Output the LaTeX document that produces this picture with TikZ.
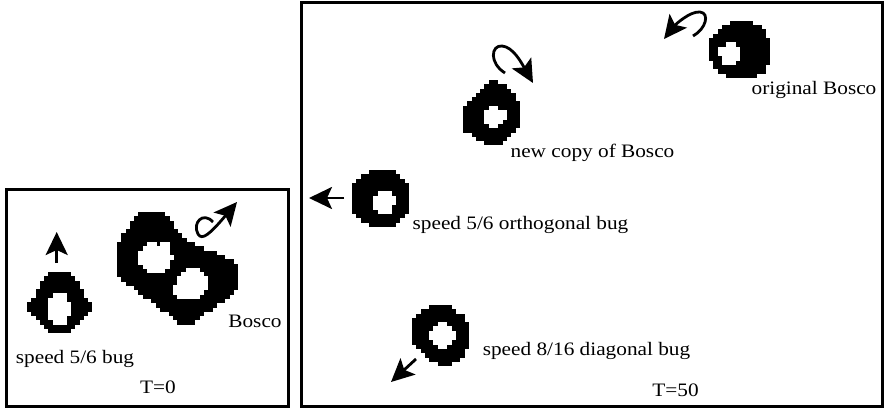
\documentclass[tikz,border=0pt]{standalone}
\usepackage{fontspec}
\setmainfont{Liberation Serif}[FakeStretch=1.12]
\usepackage{tikz}
\usetikzlibrary{arrows.meta}
\tikzset{
  panel/.style={line width=3pt, black},
  cell/.style={fill=black, draw=black, line width=0.2pt},
  hole/.style={fill=white, draw=white, line width=0.2pt},
  move/.style={line width=2.8pt, -{Stealth[length=23pt,width=22pt,inset=5pt]}},
  lbl/.style={font=\fontsize{19}{22}\selectfont, inner sep=0pt},
}
\newcommand{\cellsz}{4.3}
% #1 top-left corner, #2 black runs row/from/to, #3 empty runs row/from/to
\newcommand{\blob}[3]{%
  \begin{scope}[shift={(#1)}]
    \foreach \r/\a/\b in {#2}
      \fill[cell] (\a*\cellsz,\r*\cellsz) rectangle ({(\b+1)*\cellsz},{(\r+1)*\cellsz});
    \foreach \r/\a/\b in {#3}
      \fill[hole] (\a*\cellsz,\r*\cellsz) rectangle ({(\b+1)*\cellsz},{(\r+1)*\cellsz});
  \end{scope}}

\begin{document}
\begin{tikzpicture}[x=1pt,y=-1pt]
  \useasboundingbox (0,0) rectangle (885,412);
  % panels
  \draw[panel] (6,189.5) rectangle (288.5,406.5);
  \draw[panel] (301.5,3) rectangle (882,406.5);

  % T=0: speed 5/6 bug
  \blob{27,272}{0/5/9,1/4/10,2/3/11,3/3/11,4/2/12,5/2/12,6/1/13,7/0/14,8/0/14,9/1/13,10/2/12,11/3/11,12/4/10,13/5/9}
    {5/6/8,6/5/8,7/5/9,8/5/9,9/5/9,10/5/8,11/6/8}
  \draw[move] (56.7,263) -- (56.7,232);
  % T=0: Bosco
  \blob{117,212}{0/5/10,1/4/11,2/3/12,3/3/12,4/2/13,5/1/14,6/1/15,7/0/17,8/0/19,9/0/22,10/0/24,11/0/26,12/0/27,13/0/27,14/0/27,15/1/27,16/2/27,17/4/27,18/5/26,19/6/25,20/8/24,21/9/22,22/10/21,23/12/19,24/13/18,25/14/17}
    {7/7/8,7/10/11,8/6/11,9/5/11,10/5/12,11/5/11,12/6/11,13/7/10,13/16/18,14/15/19,15/14/20,16/14/20,17/13/20,18/13/19,19/14/18}
  \draw[move] (213,222) .. controls (203,211) and (192,223) .. (198,234)
    .. controls (202,241) and (210,234) .. (237,202);
  \node[lbl] (lblBug) at (75,358.5) {speed 5/6 bug};
  \node[lbl] (lblBosco) at (255,321.5) {Bosco};
  \node[lbl] (lblT0) at (158,387.5) {T=0};

  % T=50: original Bosco
  \blob{709,21}{0/5/9,1/3/11,2/2/12,3/1/12,4/0/13,5/0/13,6/0/13,7/0/13,8/0/13,9/1/13,10/1/12,11/2/12,12/4/10}
    {5/4/5,6/2/6,7/2/6,8/3/6,9/3/5}
  \draw[move] (693,36) .. controls (706,29) and (710,13) .. (700,12)
    .. controls (690,11) and (675,25) .. (664,39);
  \node[lbl] (lblOrig) at (814,90) {original Bosco};
  % T=50: new copy
  \blob{463,80}{0/6/7,1/5/9,2/4/10,3/3/11,4/2/11,5/1/12,6/0/12,7/0/12,8/0/12,9/0/12,10/0/12,11/0/11,12/2/10,13/3/9,14/5/8}
    {6/6/7,7/5/9,8/5/9,9/5/8,10/6/7}
  \draw[move] (505,73) .. controls (489,63) and (491,45) .. (502,46)
    .. controls (513,47) and (521,62) .. (533,83);
  \node[lbl] (lblCopy) at (592.5,153) {new copy of Bosco};
  % T=50: orthogonal bug
  \blob{352,170}{0/4/9,1/2/10,2/1/11,3/0/12,4/0/12,5/0/12,6/0/12,7/0/12,8/0/12,9/0/12,10/1/11,11/2/10,12/4/9}
    {5/6/8,6/5/9,7/5/9,8/5/8,9/6/8}
  \draw[move] (344,198) -- (309,198);
  \node[lbl] (lblOrth) at (520.5,225) {speed 5/6 orthogonal bug};
  % T=50: diagonal bug
  \blob{412,305}{0/4/8,1/2/9,2/1/11,3/0/11,4/0/12,5/0/12,6/0/12,7/0/12,8/0/12,9/1/12,10/2/11,11/3/11,12/4/10,13/6/8}
    {4/6/7,5/5/8,6/4/9,7/4/9,8/5/8,9/6/7}
  \draw[move] (416,359) -- (391,382);
  \node[lbl] (lblDiag) at (586.5,351) {speed 8/16 diagonal bug};
  \node[lbl] (lblT50) at (675.5,390) {T=50};
\end{tikzpicture}
\end{document}
